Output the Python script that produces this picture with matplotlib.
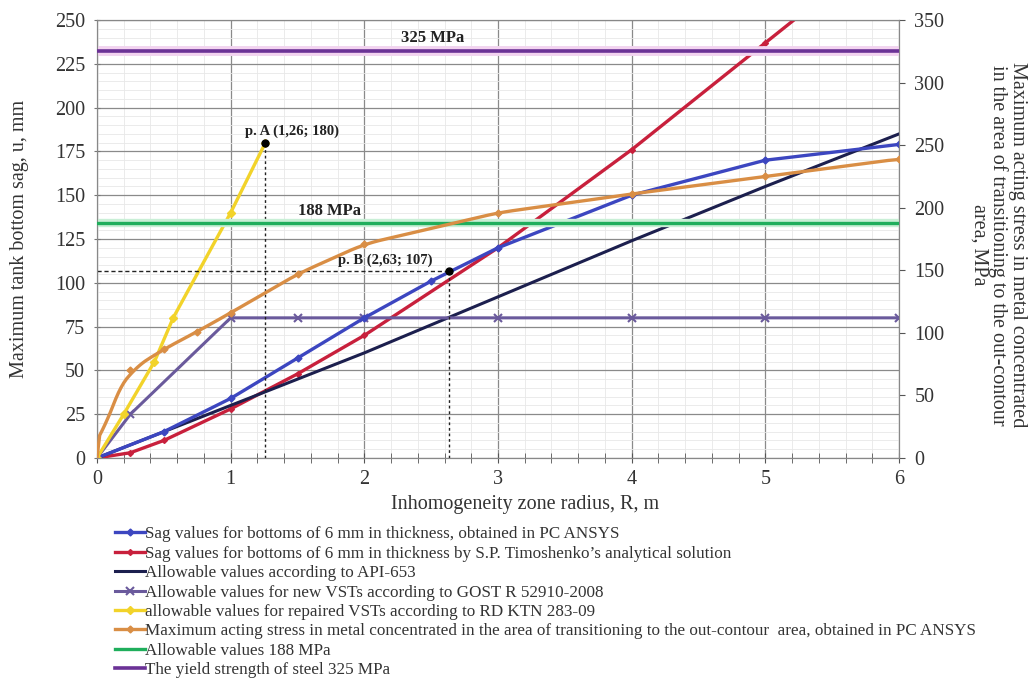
import numpy as np
import matplotlib.pyplot as plt
from matplotlib.ticker import MultipleLocator

plt.rcParams['font.family'] = ['Liberation Serif', 'DejaVu Serif']

# data (left axis in mm, right axis in MPa)
x_ansys = [0, 0.5, 1, 1.5, 2, 2.5, 3, 4, 5, 6]
u_ansys = [0, 15, 34, 57, 80, 101, 120, 150, 170, 179]

x_timo = [0, 0.25, 0.5, 1, 1.5, 2, 3, 4, 5, 6]
u_timo = [0, 3, 10, 28, 48, 70, 120, 176, 237, 298]

x_api = [0, 1, 2, 3, 4, 5, 6]
u_api = [0, 30, 60, 92, 124, 155, 185]

x_gost = [0, 0.25, 1, 1.5, 2, 3, 4, 5, 6]
u_gost = [0, 25, 80, 80, 80, 80, 80, 80, 80]

x_rd = [0, 0.2, 0.43, 0.57, 1, 1.26]
u_rd = [0, 25, 55, 80, 140, 180]

x_stress = [0, 0.1, 0.25, 0.5, 0.75, 1, 1.5, 2, 3, 4, 5, 6]
s_stress = [0, 45, 70, 87, 101, 116, 147, 171, 196, 211, 225, 239]

allow_mpa = 188
yield_mpa = 325
point_a = (1.26, 180)
point_b = (2.63, 107)

legend_labels = [
    'Sag values for bottoms of 6 mm in thickness, obtained in PC ANSYS',
    'Sag values for bottoms of 6 mm in thickness by S.P. Timoshenko\u2019s analytical solution',
    'Allowable values according to API-653',
    'Allowable values for new VSTs according to GOST R 52910-2008',
    'allowable values for repaired VSTs according to RD KTN 283-09',
    'Maximum acting stress in metal concentrated in the area of transitioning to the out-contour  area, obtained in PC ANSYS',
    'Allowable values 188 MPa',
    'The yield strength of steel 325 MPa',
]

fig = plt.figure(figsize=(10.33, 6.8), dpi=100)
ax = fig.add_axes([0.0939, 0.3265, 0.7764, 0.644])
ax2 = ax.twinx()

ax.set_xlim(0, 6)
ax.set_ylim(0, 250)
ax2.set_ylim(0, 350)

ax.xaxis.set_major_locator(MultipleLocator(1))
ax.xaxis.set_minor_locator(MultipleLocator(0.2))
ax.yaxis.set_major_locator(MultipleLocator(25))
ax.yaxis.set_minor_locator(MultipleLocator(5))
ax2.yaxis.set_major_locator(MultipleLocator(50))

ax.grid(True, which='major', color='#8a8a8a', linewidth=0.9)
ax.grid(True, which='minor', color='#e8e8e8', linewidth=0.6)
ax.set_axisbelow(True)

for a in (ax, ax2):
    for s in a.spines.values():
        s.set_color('#888888')

ax.tick_params(axis='x', which='both', direction='inout', length=7, color='#555555',
               labelsize=14.5, pad=5, labelcolor='#333333')
ax.tick_params(axis='y', which='major', direction='inout', length=5, color='#777777',
               labelsize=14.5, pad=6, labelcolor='#333333')
ax.tick_params(axis='y', which='minor', length=0)
ax2.tick_params(axis='y', direction='out', length=4, color='#555555', labelsize=14.5,
                pad=7, labelcolor='#333333')

handles = []
h, = ax.plot(x_ansys, u_ansys, color='#3c46c0', lw=2.4, marker='D', ms=3.5, zorder=5)
handles.append(h)
h, = ax.plot(x_timo, u_timo, color='#c8203c', lw=2.4, marker='D', ms=3, zorder=4)
handles.append(h)
h, = ax.plot(x_api, u_api, color='#1c1f4e', lw=2.2, zorder=4)
handles.append(h)
h, = ax.plot(x_gost, u_gost, color='#6a5a9c', lw=2.2, marker='x', ms=6, mew=1.5, zorder=4)
handles.append(h)
h, = ax.plot(x_rd, u_rd, color='#f2d32a', lw=2.4, marker='D', ms=4, zorder=5)
handles.append(h)

# stress curve on the right axis, drawn smooth
xs = np.linspace(0, 6, 300)
ys = np.interp(xs, x_stress, s_stress)
ys = np.convolve(np.pad(ys, 6, mode='edge'), np.ones(13) / 13, mode='valid')
ys[0] = 0
ax2.plot(xs, ys, color='#d98e45', lw=2.4, zorder=4)
ax2.plot(x_stress[2:], s_stress[2:], ls='none', marker='D', ms=3.5, color='#d98e45', zorder=4)
h, = ax2.plot([], [], color='#d98e45', lw=2.4, marker='D', ms=3.5)
handles.append(h)

ax2.axhline(allow_mpa, color='#c9efd6', lw=6, zorder=2)
h = ax2.axhline(allow_mpa, color='#1fae5c', lw=2.4, zorder=3)
handles.append(h)
ax2.axhline(yield_mpa, color='#f3d3f0', lw=7, zorder=2)
h = ax2.axhline(yield_mpa, color='#6b3296', lw=2.6, zorder=3)
handles.append(h)

ax2.text(1.74, allow_mpa + 3, '188 MPa', fontsize=12, fontweight='bold', ha='center', va='bottom',
         color='#222222')
ax2.text(2.51, yield_mpa + 4, '325 MPa', fontsize=12, fontweight='bold', ha='center', va='bottom',
         color='#222222')

# marked points
ax2.set_zorder(ax.get_zorder() + 1)
ax2.patch.set_visible(False)
ax.plot([point_a[0], point_a[0]], [0, point_a[1]], ls=(0, (2, 2)), color='#222222', lw=1, zorder=6)
ax.plot([point_b[0], point_b[0]], [0, point_b[1]], ls=(0, (2, 2)), color='#222222', lw=1, zorder=6)
ax.plot([0, point_b[0]], [point_b[1], point_b[1]], ls=(0, (3, 2)), color='#222222', lw=1, zorder=6)
ax2.plot([point_a[0], point_b[0]], [point_a[1] * 1.4, point_b[1] * 1.4], ls='none',
         marker='o', ms=5, color='black', zorder=7)
ax2.text(point_a[0] + 0.2, point_a[1] * 1.4 + 4, 'p. A (1,26; 180)', fontsize=10.5,
         fontweight='bold', ha='center', va='bottom', color='#222222')
ax2.text(point_b[0] - 0.12, point_b[1] * 1.4 + 3, 'p. B (2,63; 107)', fontsize=10.5,
         fontweight='bold', ha='right', va='bottom', color='#222222')

fig.text(525 / 1033, 1 - 505 / 680, 'Inhomogeneity zone radius, R, m', fontsize=14.5,
         color='#333333', ha='center', va='center')
fig.text(20 / 1033, 1 - 239 / 680, 'Maximum tank bottom sag, u, mm', fontsize=14.5,
         color='#333333', ha='center', va='center', rotation=90)
fig.text(998 / 1033, 1 - 245 / 680,
         'Maximum acting stress in metal concentrated\nin the area of transitioning to the out-contour\narea, MPa',
         fontsize=14.5, color='#333333', ha='center', va='center', rotation=270,
         linespacing=1.0, multialignment='center')

fig.legend(handles, legend_labels, loc='upper left', bbox_to_anchor=(0.111, 0.226),
           frameon=False, fontsize=12.3, handlelength=1.75, handletextpad=0.05,
           labelspacing=0.2, borderaxespad=0, borderpad=0, labelcolor='#333333')

fig.savefig('out.png', dpi=100)
